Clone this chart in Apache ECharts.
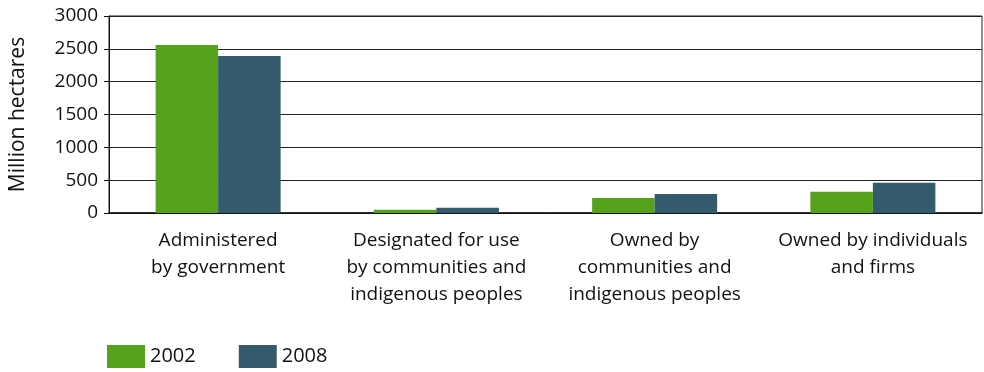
<!DOCTYPE html>
<html>
<head>
<meta charset="utf-8">
<script src="https://cdn.jsdelivr.net/npm/echarts@6/dist/echarts.min.js"></script>
<style>
  html, body { margin: 0; padding: 0; background: #fff; }
  #chart { width: 984px; height: 372px; }
</style>
</head>
<body>
<div id="chart"></div>
<script>
// Forest tenure, million hectares
const categories = [
  'Administered\nby government',
  'Designated for use\nby communities and\nindigenous peoples',
  'Owned by\ncommunities and\nindigenous peoples',
  'Owned by individuals\nand firms'
];
const values2002 = [2560, 50, 230, 325];
const values2008 = [2390, 80, 290, 460];
const yTicks = [0, 500, 1000, 1500, 2000, 2500, 3000];

const FONT = '"Open Sans", sans-serif';
const chart = echarts.init(document.getElementById('chart'), null, { renderer: 'canvas' });

chart.setOption({
  animation: false,
  textStyle: { fontFamily: FONT },
  grid: {
    left: 106, right: 2, top: 16, bottom: 159,
    show: true, borderColor: '#222', borderWidth: 1, backgroundColor: 'transparent'
  },
  legend: {
    left: 107, top: 345, padding: 0,
    itemWidth: 38, itemHeight: 23, itemGap: 43,
    icon: 'rect',
    textStyle: { fontFamily: FONT, fontSize: 20, color: '#111' },
    data: ['2002', '2008']
  },
  xAxis: {
    type: 'category',
    data: categories,
    axisLine: { lineStyle: { color: '#111', width: 1.5 } },
    axisTick: { show: false },
    axisLabel: {
      interval: 0, margin: 14, lineHeight: 27,
      fontFamily: FONT, fontSize: 19, color: '#111', align: 'center'
    }
  },
  yAxis: {
    type: 'value',
    min: yTicks[0], max: yTicks[yTicks.length - 1], interval: 500,
    name: 'Million hectares',
    nameLocation: 'middle', nameGap: 80,
    nameTextStyle: { fontFamily: FONT, fontSize: 21, color: '#111' },
    axisLine: { show: true, lineStyle: { color: '#111', width: 1 } },
    axisTick: { show: true, length: 5, lineStyle: { color: '#111' } },
    axisLabel: {
      margin: 11, fontFamily: FONT, fontSize: 19, color: '#111',
      formatter: v => String(v)
    },
    splitLine: { lineStyle: { color: '#222', width: 1.2 } }
  },
  series: [
    {
      name: '2002', type: 'bar', data: values2002,
      barWidth: 62.5, barGap: '0%',
      itemStyle: { color: '#57a21b' }
    },
    {
      name: '2008', type: 'bar', data: values2008,
      barWidth: 62.5,
      itemStyle: { color: '#345b6b' }
    }
  ]
});
</script>
</body>
</html>
